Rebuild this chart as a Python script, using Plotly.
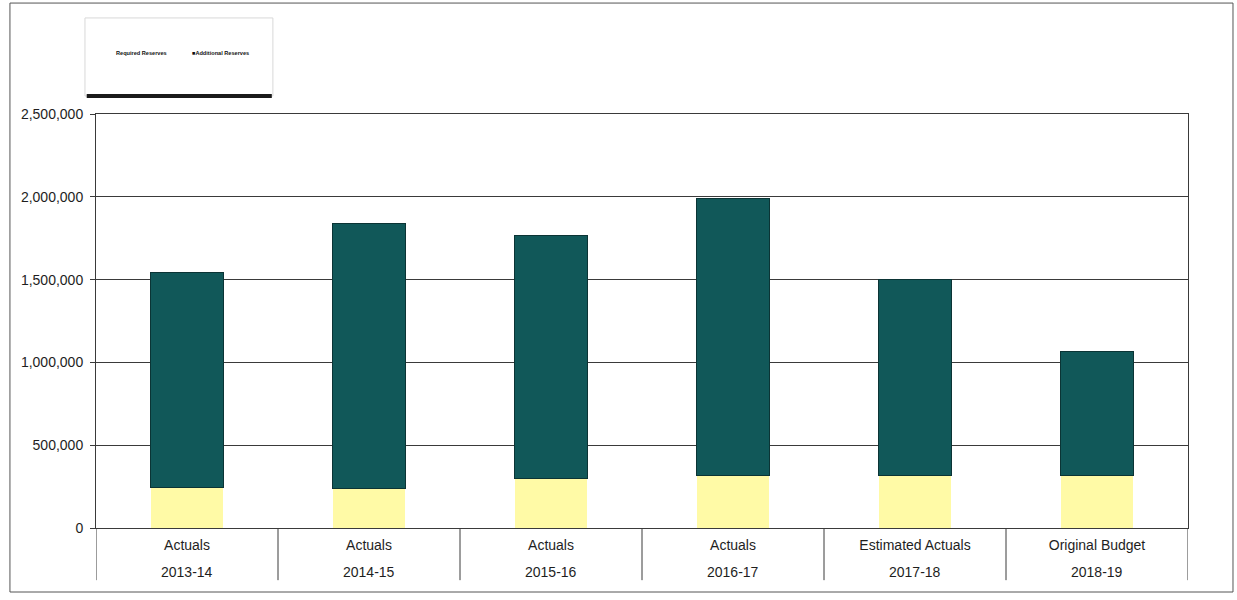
import plotly.graph_objects as go

# Reserve balances by fiscal year
stages = ["Actuals", "Actuals", "Actuals", "Actuals", "Estimated Actuals", "Original Budget"]
years = ["2013-14", "2014-15", "2015-16", "2016-17", "2017-18", "2018-19"]
required_reserves = [245000, 237000, 298000, 316000, 320000, 318000]
additional_reserves = [1299000, 1599000, 1470000, 1676000, 1182000, 747000]
y_ticks = [0, 500000, 1000000, 1500000, 2000000, 2500000]

TEAL = "#115859"
YELLOW = "#fffaa6"
INK = "#1e1e1e"
RULE = "#3a3a3a"
FONT = "Liberation Sans, Arial, sans-serif"

xpos = list(range(len(years)))

fig = go.Figure()
fig.add_trace(go.Bar(
    x=xpos, y=required_reserves, name="Required Reserves",
    marker=dict(color=YELLOW, line=dict(width=0)),
))
fig.add_trace(go.Bar(
    x=xpos, y=additional_reserves, name="Additional Reserves",
    marker=dict(color=TEAL, line=dict(color="#0b3435", width=1)),
))

fig.update_layout(
    width=1237, height=600, autosize=False,
    margin=dict(l=96, r=49, t=114, b=72),
    barmode="stack", bargap=0.6,
    plot_bgcolor="white", paper_bgcolor="white",
    showlegend=False,
    font=dict(family=FONT, size=14, color=INK),
)

fig.update_xaxes(
    type="linear", range=[-0.5, len(years) - 0.5],
    tickmode="array", tickvals=xpos, ticktext=stages,
    ticks="", ticklabelstandoff=4,
    showgrid=False, zeroline=False,
    showline=True, linecolor=RULE, linewidth=1, mirror=True,
    tickfont=dict(family=FONT, size=14, color=INK),
)
fig.update_yaxes(
    range=[0, 2500000], tickmode="array", tickvals=y_ticks,
    tickformat=",d",
    ticks="outside", ticklen=5, tickcolor=RULE,
    ticklabelstandoff=4,
    showgrid=True, gridcolor=RULE, gridwidth=1,
    zeroline=True, zerolinecolor=RULE, zerolinewidth=1,
    showline=True, linecolor=RULE, linewidth=1, mirror=True,
    tickfont=dict(family=FONT, size=14, color=INK),
)

# Year labels on the second row of the category axis
for i, yr in enumerate(years):
    fig.add_annotation(
        x=i, y=-0.106, xref="x", yref="paper", text=yr, showarrow=False,
        xanchor="center", yanchor="middle",
        font=dict(family=FONT, size=14, color=INK),
    )

# Category dividers below the axis
for i in range(len(years) + 1):
    fig.add_shape(
        type="line", xref="x", yref="paper",
        x0=i - 0.5, x1=i - 0.5, y0=0, y1=-0.126,
        line=dict(color=RULE, width=1),
    )

# Outer chart frame
fig.add_shape(
    type="rect", xref="paper", yref="paper",
    x0=-0.0788, x1=1.0412, y0=-0.1546, y1=1.268,
    line=dict(color="#555555", width=1), layer="below",
)

# Legend box with drop shadow along its bottom edge
fig.add_shape(
    type="rect", xref="paper", yref="paper",
    x0=-0.0101, x1=0.162, y0=1.0435, y1=1.232,
    line=dict(color="#d8d8d8", width=1), fillcolor="white",
)
fig.add_shape(
    type="line", xref="paper", yref="paper",
    x0=-0.0085, x1=0.161, y0=1.0435, y1=1.0435,
    line=dict(color="#1a1a1a", width=4),
)
fig.add_annotation(
    x=0.042, y=1.148, xref="paper", yref="paper",
    text="<b>Required Reserves</b>", showarrow=False,
    xanchor="center", yanchor="middle",
    font=dict(family=FONT, size=5.6, color="#111111"),
)
fig.add_annotation(
    x=0.114, y=1.148, xref="paper", yref="paper",
    text="<b>\u25a0Additional Reserves</b>", showarrow=False,
    xanchor="center", yanchor="middle",
    font=dict(family=FONT, size=5.6, color="#111111"),
)

fig.write_html("out.html")
